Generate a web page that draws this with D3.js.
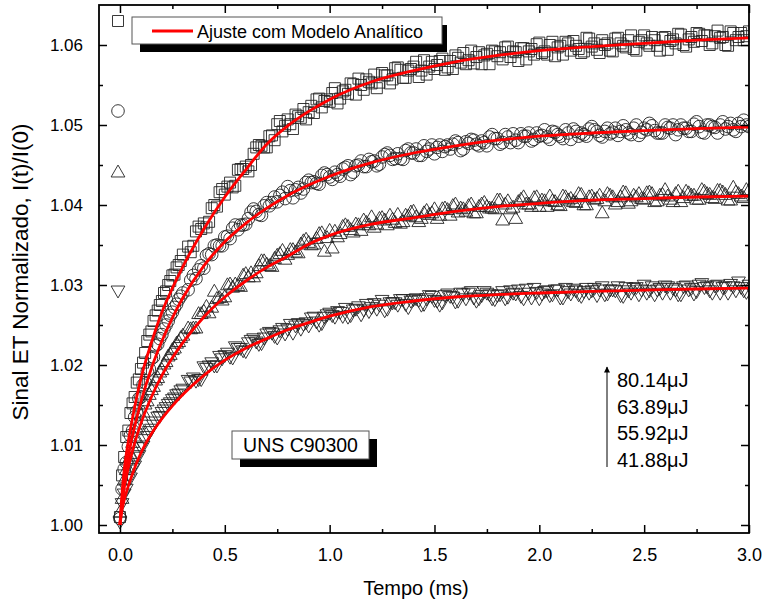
<!DOCTYPE html>
<html><head><meta charset="utf-8">
<script src="https://cdn.jsdelivr.net/npm/d3@7"></script>
<style>
body{margin:0;background:#fff}
svg{display:block}
text{font-family:"Liberation Sans", Arial, sans-serif; fill:#000}
</style>
</head><body>
<svg id="chart" width="763" height="607"></svg>
<script>
// ---- data ----
const time = [
0,0.01,0.02,0.03,0.04,0.05,0.06,0.07,0.08,0.09,
0.10,0.11,0.12,0.13,0.14,0.15,0.16,0.17,0.18,0.19,
0.20,0.21,0.22,0.23,0.24,0.25,0.26,0.27,0.28,0.29,
0.30,
0.325,0.35,0.375,0.4,0.425,0.45,0.475,0.5,0.525,0.55,
0.575,0.6,0.625,0.65,0.675,0.7,0.725,0.75,0.775,0.8,
0.825,0.85,0.875,0.9,0.925,0.95,0.975,1.0,1.025,1.05,
1.075,1.1,1.125,1.15,1.175,1.2,1.225,1.25,1.275,1.3,
1.325,1.35,1.375,1.4,1.425,1.45,1.475,1.5,1.525,1.55,
1.575,1.6,1.625,1.65,1.675,1.7,1.725,1.75,1.775,1.8,
1.825,1.85,1.875,1.9,1.925,1.95,1.975,2.0,2.025,2.05,
2.075,2.1,2.125,2.15,2.175,2.2,2.225,2.25,2.275,2.3,
2.325,2.35,2.375,2.4,2.425,2.45,2.475,2.5,2.525,2.55,
2.575,2.6,2.625,2.65,2.675,2.7,2.725,2.75,2.775,2.8,
2.825,2.85,2.875,2.9,2.925,2.95,2.975,3.0];

// 80.14 uJ (squares)
const signal80 = [
1.0010,1.0062,1.0085,1.0110,1.0118,1.0140,1.0152,1.0160,1.0178,1.0182,
1.0195,1.0203,1.0215,1.0230,1.0238,1.0242,1.0255,1.0262,1.0268,1.0275,
1.0280,1.0290,1.0292,1.0300,1.0305,1.0312,1.0313,1.0322,1.0325,1.0330,
1.0338,
1.0348,1.0349,1.0373,1.0377,1.0379,1.0400,1.0416,1.0413,1.0428,1.0424,
1.0445,1.0448,1.0450,1.0472,1.0474,1.0472,1.0487,1.0501,1.0492,1.0507,
1.0495,1.0511,1.0520,1.0516,1.0515,1.0533,1.0530,1.0529,1.0546,1.0533,
1.0544,1.0552,1.0538,1.0550,1.0557,1.0552,1.0546,1.0565,1.0562,1.0557,
1.0572,1.0559,1.0568,1.0573,1.0560,1.0581,1.0573,1.0570,1.0580,1.0569,
1.0580,1.0587,1.0578,1.0576,1.0593,1.0585,1.0576,1.0589,1.0593,1.0586,
1.0582,1.0598,1.0592,1.0580,1.0596,1.0592,1.0588,1.0603,1.0592,1.0600,
1.0586,1.0599,1.0604,1.0593,1.0599,1.0590,1.0609,1.0598,1.0594,1.0606,
1.0602,1.0592,1.0609,1.0599,1.0606,1.0595,1.0604,1.0612,1.0599,1.0606,
1.0593,1.0610,1.0605,1.0602,1.0613,1.0598,1.0610,1.0615,1.0605,1.0612,
1.0602,1.0618,1.0610,1.0599,1.0615,1.0610,1.0606,1.0617];

// 63.89 uJ (circles)
const signal63 = [
1.0008,1.0045,1.0070,1.0078,1.0098,1.0112,1.0118,1.0135,1.0142,1.0158,
1.0160,1.0175,1.0178,1.0192,1.0195,1.0208,1.0210,1.0224,1.0226,1.0233,
1.0238,1.0245,1.0250,1.0255,1.0262,1.0266,1.0272,1.0276,1.0282,1.0286,
1.0290,
1.0294,1.0312,1.0319,1.0321,1.0339,1.0349,1.0349,1.0360,1.0358,1.0375,
1.0375,1.0376,1.0391,1.0392,1.0387,1.0403,1.0403,1.0404,1.0416,1.0423,
1.0409,1.0422,1.0420,1.0431,1.0429,1.0426,1.0440,1.0435,1.0441,1.0436,
1.0447,1.0438,1.0449,1.0455,1.0448,1.0454,1.0449,1.0460,1.0465,1.0457,
1.0464,1.0457,1.0470,1.0465,1.0462,1.0474,1.0470,1.0464,1.0475,1.0473,
1.0470,1.0480,1.0468,1.0479,1.0482,1.0476,1.0480,1.0474,1.0488,1.0483,
1.0478,1.0485,1.0489,1.0478,1.0486,1.0490,1.0482,1.0486,1.0494,1.0482,
1.0491,1.0486,1.0494,1.0482,1.0492,1.0490,1.0486,1.0498,1.0492,1.0485,
1.0496,1.0491,1.0487,1.0499,1.0490,1.0496,1.0487,1.0496,1.0502,1.0493,
1.0490,1.0500,1.0496,1.0488,1.0500,1.0496,1.0492,1.0504,1.0491,1.0500,
1.0498,1.0490,1.0504,1.0498,1.0494,1.0502,1.0506,1.0498];

// 55.92 uJ (up triangles)
const signal55 = [
1.0015,1.0032,1.0055,1.0068,1.0080,1.0088,1.0102,1.0108,1.0120,1.0125,
1.0136,1.0140,1.0150,1.0154,1.0162,1.0168,1.0172,1.0180,1.0183,1.0190,
1.0193,1.0200,1.0203,1.0210,1.0212,1.0218,1.0220,1.0226,1.0228,1.0233,
1.0236,
1.0245,1.0245,1.0263,1.0266,1.0264,1.0291,1.0283,1.0284,1.0300,1.0300,
1.0297,1.0313,1.0314,1.0314,1.0329,1.0325,1.0322,1.0336,1.0342,1.0337,
1.0343,1.0339,1.0354,1.0352,1.0350,1.0363,1.0341,1.0367,1.0366,1.0363,
1.0374,1.0368,1.0375,1.0367,1.0377,1.0384,1.0375,1.0383,1.0374,1.0381,
1.0387,1.0378,1.0385,1.0391,1.0378,1.0389,1.0387,1.0394,1.0386,1.0395,
1.0386,1.0400,1.0395,1.0391,1.0400,1.0389,1.0400,1.0397,1.0395,1.0405,
1.0380,1.0404,1.0396,1.0403,1.0409,1.0400,1.0408,1.0397,1.0404,1.0410,
1.0403,1.0398,1.0409,1.0407,1.0402,1.0412,1.0399,1.0410,1.0407,1.0389,
1.0413,1.0409,1.0403,1.0415,1.0401,1.0411,1.0413,1.0406,1.0415,1.0403,
1.0411,1.0418,1.0406,1.0413,1.0403,1.0416,1.0411,1.0406,1.0418,1.0413,
1.0408,1.0417,1.0415,1.0405,1.0421,1.0413,1.0408,1.0417];

// 41.88 uJ (down triangles)
const signal41 = [
1.0005,1.0028,1.0040,1.0046,1.0058,1.0060,1.0072,1.0075,1.0086,1.0088,
1.0098,1.0100,1.0108,1.0112,1.0118,1.0121,1.0126,1.0130,1.0136,1.0137,
1.0142,1.0145,1.0148,1.0152,1.0154,1.0158,1.0160,1.0164,1.0165,1.0169,
1.0171,
1.0182,1.0185,1.0183,1.0199,1.0200,1.0200,1.0212,1.0213,1.0211,1.0224,
1.0222,1.0218,1.0232,1.0230,1.0228,1.0240,1.0241,1.0235,1.0247,1.0246,
1.0241,1.0253,1.0252,1.0250,1.0261,1.0251,1.0261,1.0266,1.0261,1.0267,
1.0272,1.0263,1.0271,1.0264,1.0277,1.0273,1.0271,1.0282,1.0271,1.0279,
1.0276,1.0283,1.0273,1.0283,1.0282,1.0277,1.0288,1.0282,1.0276,1.0288,
1.0287,1.0280,1.0291,1.0284,1.0293,1.0281,1.0288,1.0291,1.0284,1.0288,
1.0293,1.0286,1.0291,1.0295,1.0284,1.0291,1.0297,1.0284,1.0293,1.0288,
1.0295,1.0285,1.0297,1.0290,1.0294,1.0287,1.0297,1.0294,1.0288,1.0299,
1.0290,1.0295,1.0299,1.0287,1.0294,1.0297,1.0289,1.0301,1.0294,1.0289,
1.0297,1.0300,1.0291,1.0295,1.0289,1.0300,1.0297,1.0293,1.0303,1.0299,
1.0291,1.0301,1.0298,1.0291,1.0299,1.0305,1.0294,1.0301];

// interleaved samples (between the ones above)
const time2 = [
0.3375,0.3625,0.3875,0.4125,0.4375,0.4625,0.4875,0.5125,0.5375,0.5625,
0.5875,0.6125,0.6375,0.6625,0.6875,0.7125,0.7375,0.7625,0.7875,0.8125,
0.8375,0.8625,0.8875,0.9125,0.9375,0.9625,0.9875,1.0125,1.0375,1.0625,
1.0875,1.1125,1.1375,1.1625,1.1875,1.2125,1.2375,1.2625,1.2875,1.3125,
1.3375,1.3625,1.3875,1.4125,1.4375,1.4625,1.4875,1.5125,1.5375,1.5625,
1.5875,1.6125,1.6375,1.6625,1.6875,1.7125,1.7375,1.7625,1.7875,1.8125,
1.8375,1.8625,1.8875,1.9125,1.9375,1.9625,1.9875,2.0125,2.0375,2.0625,
2.0875,2.1125,2.1375,2.1625,2.1875,2.2125,2.2375,2.2625,2.2875,2.3125,
2.3375,2.3625,2.3875,2.4125,2.4375,2.4625,2.4875,2.5125,2.5375,2.5625,
2.5875,2.6125,2.6375,2.6625,2.6875,2.7125,2.7375,2.7625,2.7875,2.8125,
2.8375,2.8625,2.8875,2.9125,2.9375,2.9625,2.9875];

const signal80b = [
1.0341,1.0367,1.0370,1.0372,1.0396,1.0398,1.0420,1.0423,1.0422,1.0444,
1.0445,1.0442,1.0464,1.0475,1.0472,1.0486,1.0481,1.0505,1.0499,1.0501,
1.0513,1.0509,1.0507,1.0524,1.0532,1.0522,1.0532,1.0540,1.0527,1.0542,
1.0539,1.0551,1.0558,1.0544,1.0554,1.0563,1.0553,1.0562,1.0552,1.0571,
1.0569,1.0559,1.0570,1.0579,1.0568,1.0563,1.0579,1.0575,1.0583,1.0572,
1.0570,1.0584,1.0590,1.0581,1.0577,1.0591,1.0587,1.0576,1.0592,1.0591,
1.0597,1.0585,1.0591,1.0596,1.0582,1.0595,1.0601,1.0590,1.0588,1.0604,
1.0597,1.0588,1.0602,1.0605,1.0595,1.0592,1.0608,1.0602,1.0590,1.0600,
1.0593,1.0608,1.0602,1.0597,1.0612,1.0593,1.0606,1.0602,1.0610,1.0599,
1.0609,1.0594,1.0607,1.0614,1.0600,1.0607,1.0604,1.0614,1.0612,1.0600,
1.0611,1.0609,1.0600,1.0617,1.0606,1.0615,1.0611];

const signal63b = [
1.0306,1.0308,1.0324,1.0337,1.0338,1.0350,1.0349,1.0361,1.0371,1.0369,
1.0375,1.0383,1.0395,1.0388,1.0399,1.0399,1.0410,1.0412,1.0408,1.0418,
1.0419,1.0415,1.0428,1.0428,1.0427,1.0437,1.0438,1.0432,1.0438,1.0445,
1.0449,1.0441,1.0450,1.0448,1.0457,1.0455,1.0451,1.0463,1.0462,1.0458,
1.0458,1.0468,1.0465,1.0470,1.0462,1.0467,1.0475,1.0472,1.0467,1.0475,
1.0476,1.0478,1.0470,1.0477,1.0481,1.0474,1.0478,1.0485,1.0483,1.0476,
1.0488,1.0478,1.0481,1.0489,1.0486,1.0480,1.0490,1.0487,1.0485,1.0492,
1.0488,1.0483,1.0490,1.0495,1.0486,1.0488,1.0495,1.0494,1.0487,1.0492,
1.0489,1.0496,1.0492,1.0494,1.0488,1.0500,1.0491,1.0494,1.0499,1.0490,
1.0490,1.0497,1.0500,1.0494,1.0496,1.0492,1.0501,1.0498,1.0490,1.0500,
1.0497,1.0500,1.0495,1.0502,1.0492,1.0498,1.0500];

const signal55b = [
1.0244,1.0245,1.0263,1.0272,1.0271,1.0282,1.0280,1.0299,1.0296,1.0298,
1.0311,1.0309,1.0309,1.0323,1.0329,1.0323,1.0332,1.0338,1.0331,1.0343,
1.0340,1.0350,1.0356,1.0349,1.0357,1.0364,1.0358,1.0345,1.0359,1.0372,
1.0372,1.0365,1.0374,1.0380,1.0374,1.0371,1.0382,1.0380,1.0386,1.0377,
1.0376,1.0386,1.0390,1.0384,1.0382,1.0392,1.0389,1.0382,1.0394,1.0393,
1.0398,1.0390,1.0394,1.0398,1.0389,1.0397,1.0402,1.0395,1.0394,1.0405,
1.0400,1.0394,1.0382,1.0406,1.0400,1.0397,1.0409,1.0405,1.0397,1.0404,
1.0399,1.0410,1.0405,1.0403,1.0413,1.0399,1.0409,1.0406,1.0411,1.0404,
1.0411,1.0400,1.0409,1.0414,1.0404,1.0409,1.0407,1.0414,1.0413,1.0404,
1.0412,1.0410,1.0403,1.0416,1.0408,1.0414,1.0411,1.0406,1.0416,1.0412,
1.0407,1.0417,1.0412,1.0405,1.0415,1.0410,1.0418];

const signal41b = [
1.0180,1.0181,1.0183,1.0197,1.0204,1.0200,1.0209,1.0216,1.0210,1.0222,
1.0219,1.0229,1.0234,1.0227,1.0235,1.0242,1.0237,1.0244,1.0240,1.0252,
1.0250,1.0246,1.0254,1.0260,1.0255,1.0253,1.0264,1.0263,1.0268,1.0262,
1.0261,1.0270,1.0274,1.0270,1.0268,1.0278,1.0276,1.0269,1.0279,1.0279,
1.0283,1.0277,1.0281,1.0284,1.0276,1.0284,1.0287,1.0281,1.0279,1.0290,
1.0286,1.0281,1.0290,1.0291,1.0285,1.0284,1.0293,1.0289,1.0283,1.0289,
1.0284,1.0294,1.0290,1.0287,1.0296,1.0285,1.0292,1.0290,1.0294,1.0289,
1.0295,1.0285,1.0293,1.0296,1.0289,1.0293,1.0291,1.0297,1.0295,1.0289,
1.0295,1.0294,1.0288,1.0298,1.0291,1.0298,1.0295,1.0291,1.0299,1.0295,
1.0291,1.0299,1.0297,1.0289,1.0299,1.0295,1.0290,1.0301,1.0298,1.0294,
1.0300,1.0291,1.0299,1.0302,1.0294,1.0298,1.0292];

// analytical-model fit curves
const fitTime = [0,0.01,0.02,0.04,0.06,0.08,0.1,0.15,0.2,0.25,0.3,0.4,0.5,0.6,0.7,0.8,0.9,1.0,1.2,1.4,1.6,1.8,2.0,2.25,2.5,2.75,3.0];
const fit80 = [1.0000,1.0040,1.0068,1.0105,1.0134,1.0160,1.0183,1.0228,1.0266,1.0296,1.0323,1.0370,1.0410,1.0444,1.0476,1.0499,1.0517,1.0532,1.0554,1.0568,1.0579,1.0587,1.0593,1.0598,1.0602,1.0606,1.0609];
const fit63 = [1.0000,1.0032,1.0054,1.0086,1.0112,1.0134,1.0154,1.0196,1.0230,1.0259,1.0284,1.0324,1.0354,1.0377,1.0396,1.0412,1.0425,1.0436,1.0453,1.0465,1.0474,1.0481,1.0486,1.0490,1.0493,1.04955,1.04975];
const fit55 = [1.0000,1.0028,1.0046,1.0072,1.0093,1.0111,1.0127,1.0160,1.0187,1.0209,1.0228,1.0260,1.0285,1.0305,1.0322,1.0336,1.0351,1.0362,1.0376,1.0384,1.0392,1.0398,1.0402,1.0406,1.0408,1.0410,1.0411];
const fit41 = [1.0000,1.0019,1.0031,1.0049,1.0064,1.0078,1.0090,1.0114,1.0133,1.0149,1.0163,1.0187,1.0206,1.0221,1.0233,1.0244,1.0253,1.0261,1.0273,1.0280,1.0285,1.0288,1.0290,1.0292,1.02935,1.0295,1.0296];

const xTicks = [0, 0.5, 1.0, 1.5, 2.0, 2.5, 3.0];
const xMinor = [0.25, 0.75, 1.25, 1.75, 2.25, 2.75];
const yTicks = [1.00, 1.01, 1.02, 1.03, 1.04, 1.05, 1.06];
const yMinor = [1.005, 1.015, 1.025, 1.035, 1.045, 1.055];
const energies = ["80.14\u03bcJ", "63.89\u03bcJ", "55.92\u03bcJ", "41.88\u03bcJ"];
const xTitle = "Tempo (ms)";
const yTitle = "Sinal ET Normalizado, I(t)/I(0)";
const legendText = "Ajuste com Modelo Anal\u00edtico";
const sampleText = "UNS C90300";

// ---- layout ----
const svg = d3.select("#chart");
const L = 99, R = 749, T = 5, B = 533;
const x = d3.scaleLinear().domain([-0.1, 3.0]).range([L, R]);
const y = d3.scaleLinear().domain([0.999, 1.065]).range([B, T]);

svg.append("defs").append("clipPath").attr("id", "clip")
  .append("rect").attr("x", L).attr("y", T).attr("width", R - L).attr("height", B - T);

const series = [
  {a: signal80, b: signal80b, fit: fit80, sym: d3.symbolSquare, size: 121, rot: 0},
  {a: signal63, b: signal63b, fit: fit63, sym: d3.symbolCircle, size: 125, rot: 0},
  {a: signal55, b: signal55b, fit: fit55, sym: d3.symbolTriangle, size: 82, rot: 0},
  {a: signal41, b: signal41b, fit: fit41, sym: d3.symbolTriangle, size: 82, rot: 180}
];

const plot = svg.append("g").attr("clip-path", "url(#clip)");
series.forEach(s => {
  const path = d3.symbol().type(s.sym).size(s.size)();
  const pts = time.map((t, i) => [t, s.a[i]]).concat(time2.map((t, i) => [t, s.b[i]]));
  plot.append("g").selectAll("path").data(pts)
    .join("path")
    .attr("d", path)
    .attr("transform", d => `translate(${x(d[0])},${y(d[1])}) rotate(${s.rot})`)
    .attr("fill", "none").attr("stroke", "#222").attr("stroke-width", 0.9);
});
const line = d3.line().x(d => x(d[0])).y(d => y(d[1])).curve(d3.curveMonotoneX);
series.forEach(s => {
  plot.append("path").datum(fitTime.map((t, i) => [t, s.fit[i]]))
    .attr("d", line).attr("fill", "none").attr("stroke", "#ff0000").attr("stroke-width", 2.8);
});

// ---- axes ----
function styleAxis(fs){ return g => { g.select(".domain").remove(); g.selectAll("line").attr("stroke","#000").attr("stroke-width",1.5); g.selectAll("text").attr("font-size",fs).attr("font-family","Liberation Sans, Arial, sans-serif"); }; }
svg.append("g").attr("transform", `translate(0,${B})`)
  .call(d3.axisBottom(x).tickValues(xTicks).tickSize(-8).tickPadding(15).tickFormat(d3.format(".1f"))).call(styleAxis(18));
svg.append("g").attr("transform", `translate(0,${B})`)
  .call(d3.axisBottom(x).tickValues(xMinor).tickSize(-4).tickFormat("")).call(styleAxis(18));
svg.append("g").attr("transform", `translate(0,${T})`)
  .call(d3.axisTop(x).tickValues(xTicks).tickSize(-8).tickFormat("")).call(styleAxis(18));
svg.append("g").attr("transform", `translate(0,${T})`)
  .call(d3.axisTop(x).tickValues(xMinor).tickSize(-4).tickFormat("")).call(styleAxis(18));
svg.append("g").attr("transform", `translate(${L},0)`)
  .call(d3.axisLeft(y).tickValues(yTicks).tickSize(-8).tickPadding(16).tickFormat(d3.format(".2f"))).call(styleAxis(17));
svg.append("g").attr("transform", `translate(${L},0)`)
  .call(d3.axisLeft(y).tickValues(yMinor).tickSize(-4).tickFormat("")).call(styleAxis(17));
svg.append("g").attr("transform", `translate(${R},0)`)
  .call(d3.axisRight(y).tickValues(yTicks).tickSize(-8).tickFormat("")).call(styleAxis(17));
svg.append("g").attr("transform", `translate(${R},0)`)
  .call(d3.axisRight(y).tickValues(yMinor).tickSize(-4).tickFormat("")).call(styleAxis(17));
svg.append("rect").attr("x", L).attr("y", T).attr("width", R - L).attr("height", B - T)
  .attr("fill", "none").attr("stroke", "#000").attr("stroke-width", 1.8);

// titles
svg.append("text").attr("x", 416).attr("y", 595).attr("text-anchor", "middle")
  .attr("font-size", 20).text(xTitle);
svg.append("text").attr("transform", `translate(28,272) rotate(-90)`)
  .attr("text-anchor", "middle").attr("font-size", 22.5).text(yTitle);

// ---- legend (fit line) ----
const lg = svg.append("g");
lg.append("rect").attr("x", 140).attr("y", 25).attr("width", 307).attr("height", 27).attr("fill", "#000");
lg.append("rect").attr("x", 132).attr("y", 17).attr("width", 310).attr("height", 27).attr("fill", "#fff").attr("stroke", "#555").attr("stroke-width", 1);
lg.append("line").attr("x1", 152).attr("x2", 193).attr("y1", 31).attr("y2", 31).attr("stroke", "#ff0000").attr("stroke-width", 2.8);
lg.append("text").attr("x", 197).attr("y", 38).attr("font-size", 18).text(legendText);

// symbol key at the left
const keyY = [21, 111, 173, 290];
series.forEach((s, i) => {
  svg.append("path").attr("d", d3.symbol().type(s.sym).size(s.size)())
    .attr("transform", `translate(118,${keyY[i]}) rotate(${s.rot})`)
    .attr("fill", "none").attr("stroke", "#222").attr("stroke-width", 0.9);
});

// ---- sample label ----
svg.append("rect").attr("x", 240).attr("y", 439).attr("width", 137).attr("height", 28).attr("fill", "#000");
svg.append("rect").attr("x", 232).attr("y", 431).attr("width", 137).attr("height", 28).attr("fill", "#fff").attr("stroke", "#555").attr("stroke-width", 1);
svg.append("text").attr("x", 300.5).attr("y", 452).attr("text-anchor", "middle").attr("font-size", 19.5).text(sampleText);

// ---- energy annotation with arrow ----
svg.append("defs").append("marker").attr("id", "arrow").attr("viewBox", "0 0 10 10")
  .attr("refX", 9).attr("refY", 5).attr("markerWidth", 9).attr("markerHeight", 6)
  .attr("orient", "auto").attr("markerUnits", "userSpaceOnUse")
  .append("path").attr("d", "M0,0 L10,5 L0,10 z").attr("fill", "#000");
svg.append("line").attr("x1", 607).attr("x2", 607).attr("y1", 467).attr("y2", 367)
  .attr("stroke", "#000").attr("stroke-width", 1).attr("marker-end", "url(#arrow)");
energies.forEach((e, i) => {
  svg.append("text").attr("x", 617).attr("y", 387 + i * 26.7).attr("font-size", 20).text(e);
});
</script>
</body></html>
